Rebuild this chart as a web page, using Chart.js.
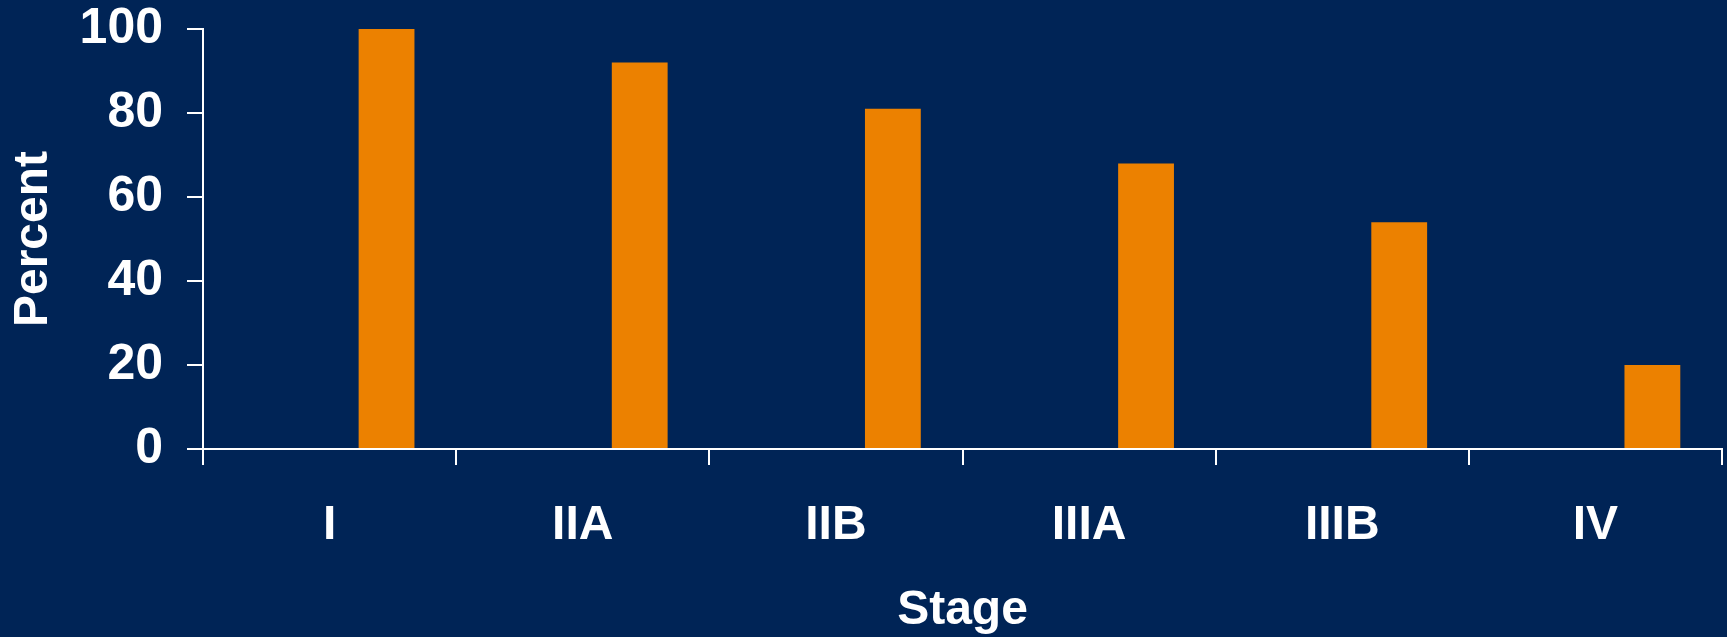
<!DOCTYPE html>
<html>
<head>
<meta charset="utf-8">
<script src="https://cdn.jsdelivr.net/npm/chart.js@4"></script>
<style>
  html, body { margin: 0; padding: 0; background: #002456; }
  #wrap { position: relative; width: 1727px; height: 637px; }
</style>
</head>
<body>
<div id="wrap"><canvas id="stageChart"></canvas></div>
<script>
const stages = ['I', 'IIA', 'IIB', 'IIIA', 'IIIB', 'IV'];
const percentValues = [100, 92, 81, 68, 54, 20];
// empty left slot in each category, keeps the bars to the right side
const spacerValues = [null, null, null, null, null, null];
const percentTicks = [0, 20, 40, 60, 80, 100];

const white = '#ffffff';
const labelFont = { family: '"Liberation Sans", Arial, sans-serif', size: 48, weight: 'bold' };

const ctx = document.getElementById('stageChart').getContext('2d');

const stageChart = new Chart(ctx, {
  type: 'bar',
  data: {
    labels: stages,
    datasets: [
      {
        label: '',
        data: spacerValues,
        backgroundColor: 'transparent'
      },
      {
        label: 'Percent',
        data: percentValues,
        backgroundColor: '#ec8100'
      }
    ]
  },
  options: {
    responsive: true,
    maintainAspectRatio: false,
    animation: false,
    categoryPercentage: 0.9,
    barPercentage: 0.49,
    layout: {
      padding: { top: 29, right: 5, bottom: 0, left: 0 }
    },
    plugins: {
      legend: { display: false },
      tooltip: { enabled: false }
    },
    scales: {
      x: {
        afterFit: function(scale) { scale.height = 188; },
        border: { color: white, width: 2 },
        grid: {
          drawOnChartArea: false,
          color: white,
          lineWidth: 2,
          tickLength: 16,
          offset: true
        },
        ticks: {
          color: white,
          font: labelFont,
          padding: 32,
          maxRotation: 0
        },
        title: {
          display: true,
          text: 'Stage',
          color: white,
          font: Object.assign({}, labelFont, { lineHeight: 1 }),
          padding: { top: 0, bottom: 2 }
        }
      },
      y: {
        min: 0,
        max: 100,
        afterFit: function(scale) {
          scale.width = 203;
          // the layout padding already leaves room for the top label
          scale.paddingTop = 0;
          scale.paddingBottom = 0;
        },
        afterBuildTicks: function(scale) {
          scale.ticks = percentTicks.map(v => ({ value: v }));
        },
        border: { color: white, width: 2 },
        grid: {
          drawOnChartArea: false,
          color: white,
          lineWidth: 2,
          tickLength: 16
        },
        ticks: {
          color: white,
          font: Object.assign({}, labelFont, { size: 50 }),
          padding: 24
        },
        title: {
          display: true,
          text: 'Percent',
          color: white,
          font: labelFont,
          padding: { top: 5, bottom: 0 }
        }
      }
    }
  }
});
</script>
</body>
</html>
